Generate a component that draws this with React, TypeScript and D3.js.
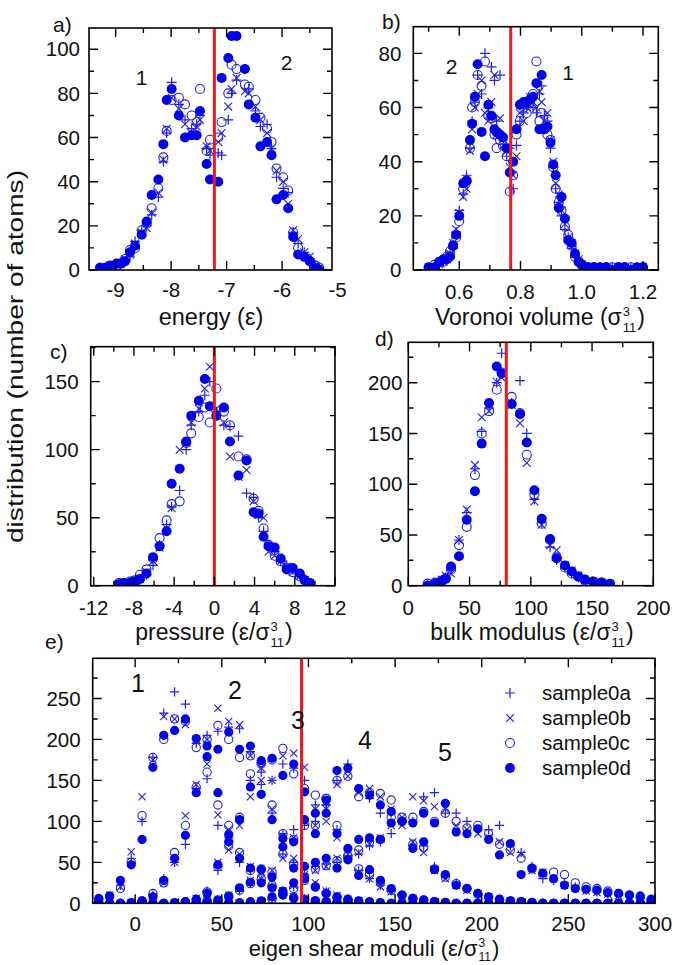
import React from "react";
import * as d3 from "d3";

type Pt = [number, number];
type Sym = "plus" | "cross" | "circle" | "disc";

const FONT = "'Liberation Sans', Arial, Helvetica, sans-serif";
const BLUE = "#0000f0";
const OPEN = "#2020e8";
const RED = "#f01818";

const sampleNames = ["sample0a", "sample0b", "sample0c", "sample0d"];
const sampleSyms: Sym[] = ["plus", "cross", "circle", "disc"];

// ---------- panel a: energy ----------
const aBins = [-9.28, -9.18, -9.1, -8.98, -8.9, -8.83, -8.74, -8.65, -8.53, -8.44,
  -8.35, -8.23, -8.14, -8.08, -7.99, -7.86, -7.75, -7.63, -7.54, -7.48,
  -7.36, -7.3, -7.15, -7.09, -6.97, -6.91, -6.82, -6.67, -6.6, -6.48,
  -6.39, -6.27, -6.19, -6.1, -5.98, -5.89, -5.8, -5.71, -5.6, -5.5,
  -5.4, -5.33];
const aS0a = [0, 1, 1, 2, 4, 4, 6, 13, 18, 20, 25, 33, 49, 62, 85, 75, 68, 64, 66, 70, 55, 52, 53, 52, 68, 80, 86, 91, 82, 72, 65, 66, 55, 42, 37, 35, 17, 12, 8, 5, 2, 1];
const aS0b = [0, 1, 2, 2, 3, 5, 7, 12, 17, 19, 26, 35, 50, 64, 78, 73, 66, 62, 65, 68, 56, 54, 58, 62, 74, 82, 87, 81, 80, 74, 68, 62, 55, 45, 40, 30, 18, 14, 8, 6, 2, 1];
const aS0c = [1, 1, 1, 2, 3, 5, 9, 10, 18, 21, 28, 37, 51, 63, 77, 78, 75, 70, 67, 82, 54, 59, 60, 67, 80, 93, 91, 84, 83, 77, 69, 64, 58, 46, 42, 36, 17, 10, 6, 4, 2, 1];
const aS0d = [1, 1, 2, 3, 3, 4, 8, 11, 16, 22, 34, 41, 57, 77, 82, 70, 60, 61, 61, 72, 48, 41, 40, 87, 96, 106, 106, 91, 75, 69, 56, 58, 52, 32, 34, 28, 15, 7, 6, 4, 1, 0];

// ---------- panel b: Voronoi volume ----------
const bBins = [0.5, 0.52, 0.535, 0.548, 0.56, 0.57, 0.58, 0.59, 0.6, 0.613,
  0.624, 0.635, 0.642, 0.651, 0.66, 0.673, 0.684, 0.695, 0.705, 0.715,
  0.722, 0.733, 0.743, 0.755, 0.765, 0.776, 0.787, 0.798, 0.81, 0.82,
  0.831, 0.841, 0.852, 0.862, 0.869, 0.878, 0.888, 0.898, 0.907, 0.915,
  0.925, 0.934, 0.945, 0.956, 0.967, 0.978, 0.99, 1.0, 1.02, 1.04,
  1.06, 1.08, 1.1, 1.12, 1.14, 1.16, 1.18, 1.2];
const bS0a = [0, 1, 2, 3, 5, 6, 8, 14, 22, 28, 35, 45, 55, 62, 72, 65, 80, 60, 75, 70, 55, 72, 48, 42, 45, 30, 46, 55, 58, 60, 62, 60, 58, 65, 68, 57, 55, 45, 38, 30, 25, 20, 15, 12, 8, 5, 3, 2, 1, 1, 1, 1, 1, 0, 1, 1, 1, 0];
const bS0b = [1, 1, 2, 3, 4, 6, 10, 15, 21, 27, 30, 44, 52, 60, 65, 70, 58, 55, 62, 72, 50, 56, 46, 44, 38, 35, 42, 58, 55, 60, 64, 62, 60, 66, 62, 55, 58, 48, 40, 32, 28, 22, 17, 12, 10, 6, 4, 2, 1, 1, 1, 1, 1, 1, 0, 1, 0, 1];
const bS0c = [0, 2, 3, 3, 5, 7, 9, 12, 18, 30, 33, 45, 60, 62, 72, 68, 77, 57, 56, 50, 45, 48, 46, 42, 29, 35, 50, 55, 60, 58, 62, 65, 77, 55, 58, 52, 50, 48, 38, 30, 25, 22, 16, 13, 9, 5, 3, 2, 1, 1, 0, 1, 1, 1, 1, 1, 0, 1];
const bS0d = [1, 1, 3, 4, 4, 5, 9, 13, 20, 32, 33, 48, 54, 64, 76, 51, 42, 61, 57, 52, 51, 50, 49, 45, 36, 40, 52, 61, 62, 62, 63, 64, 69, 52, 72, 52, 53, 47, 39, 35, 23, 27, 19, 11, 10, 6, 3, 2, 1, 1, 1, 1, 0, 1, 1, 0, 1, 1];

// ---------- panel c: pressure ----------
const cBins = [-9.5, -9.0, -8.4, -7.9, -7.4, -6.75, -6.1, -5.45, -4.75, -4.25,
  -3.45, -2.8, -2.3, -1.55, -0.95, -0.45, 0.2, 0.95, 1.55, 2.4,
  3.2, 3.9, 4.4, 4.9, 5.4, 6.0, 6.6, 7.2, 7.8, 8.5, 9.0, 9.5];
const cS0a = [1, 1, 2, 3, 4, 8, 15, 30, 45, 58, 70, 100, 118, 128, 140, 150, 128, 118, 117, 110, 68, 65, 50, 40, 28, 25, 18, 15, 12, 8, 5, 2];
const cS0b = [1, 2, 2, 4, 5, 10, 18, 28, 42, 57, 100, 105, 120, 130, 145, 161, 130, 120, 95, 80, 85, 62, 52, 50, 25, 22, 18, 14, 10, 7, 4, 2];
const cS0c = [2, 2, 3, 4, 8, 12, 20, 35, 48, 60, 62, 105, 112, 124, 131, 120, 145, 128, 118, 95, 93, 64, 55, 42, 30, 22, 18, 13, 10, 7, 4, 1];
const cS0d = [1, 2, 2, 3, 5, 9, 21, 29, 40, 75, 86, 106, 125, 136, 152, 132, 125, 131, 106, 81, 92, 54, 53, 36, 29, 28, 20, 12, 13, 9, 4, 2];

// ---------- panel d: bulk modulus ----------
const dBins = [15.8, 21.8, 27.2, 30.5, 34.9, 41.4, 47.7, 54.4, 59.9, 65.9,
  72.2, 76.2, 84.4, 91.2, 96.7, 102.9, 108.9, 115.7, 121.1, 127.9,
  133.4, 138.8, 144.2, 151, 157.9, 164.6];
const dS0a = [1, 3, 5, 8, 15, 45, 72, 115, 152, 175, 200, 229, 180, 202, 150, 85, 62, 38, 25, 18, 12, 8, 5, 4, 3, 1];
const dS0b = [0, 2, 6, 10, 12, 45, 75, 119, 166, 172, 201, 205, 178, 160, 121, 83, 60, 40, 35, 20, 15, 10, 6, 4, 3, 2];
const dS0c = [2, 3, 5, 7, 16, 40, 58, 109, 150, 172, 193, 210, 186, 170, 129, 90, 61, 45, 28, 18, 12, 9, 5, 4, 3, 1];
const dS0d = [0, 2, 4, 7, 19, 29, 65, 93, 140, 180, 216, 209, 179, 169, 141, 94, 66, 46, 27, 20, 14, 9, 6, 4, 3, 2];

// ---------- panel e: eigen shear moduli (5 modes) ----------
const eBins = [-21, -14.75, -8.5, -2.25, 4, 10.25, 16.5, 22.75, 29, 35.25,
  41.5, 47.75, 54, 60.25, 66.5, 72.75, 79, 85.25, 91.5, 97.75,
  104, 110.25, 116.5, 122.75, 129, 135.25, 141.5, 147.75, 154, 160.25,
  166.5, 172.75, 179, 185.25, 191.5, 197.75, 204, 210.25, 216.5, 222.75,
  229, 235.25, 241.5, 247.75, 254, 260.25, 266.5, 272.75, 279, 285.25,
  291.5, 297.75];
// first bin index of each mode's counts for samples 0a/0b/0c (0d covers all bins)
const eModeStart = [0, 3, 8, 9, 14];
const eG1a = [3, 8, 22, 55, 100, 178, 232, 258, 243, 195, 152, 95, 80, 50, 40, 28, 20, 12, 8, 5, 3, 2, 1, 1];
const eG1b = [4, 10, 20, 63, 130, 175, 228, 225, 218, 200, 170, 108, 90, 60, 45, 30, 20, 15, 8, 5, 3, 2, 1, 1];
const eG1c = [5, 8, 18, 50, 107, 178, 200, 225, 222, 190, 160, 120, 95, 62, 40, 30, 22, 14, 7, 5, 3, 2, 1, 0];
const eG1d = [6, 9, 28, 47, 78, 166, 205, 211, 225, 201, 179, 135, 84, 55, 43, 25, 19, 10, 6, 4, 3, 2, 1, 1, 0, 1, 0, 0, 0, 0, 0, 0, 0, 0, 0, 0, 0, 0, 0, 0, 0, 0, 0, 0, 0, 0, 0, 0, 0, 0, 0, 0];
const eG2a = [0, 2, 10, 30, 50, 72, 140, 205, 210, 215, 213, 185, 160, 110, 85, 50, 35, 22, 14, 8, 5, 3, 1];
const eG2b = [1, 2, 8, 25, 50, 107, 145, 200, 238, 222, 218, 180, 165, 115, 82, 55, 35, 25, 15, 10, 5, 3, 1];
const eG2c = [0, 3, 12, 25, 62, 95, 142, 200, 217, 200, 178, 180, 170, 120, 85, 48, 32, 20, 12, 7, 4, 2, 1];
const eG2d = [0, 0, 0, 1, 3, 8, 28, 55, 83, 135, 192, 188, 209, 188, 192, 174, 102, 79, 43, 30, 20, 12, 8, 5, 3, 2, 1, 0, 0, 0, 0, 0, 0, 0, 0, 0, 0, 0, 0, 0, 0, 0, 0, 0, 0, 0, 0, 0, 0, 0, 0, 0];
const eG3a = [2, 5, 15, 40, 75, 100, 150, 145, 150, 170, 165, 150, 120, 120, 90, 55, 40, 30, 22, 15, 10, 6, 4, 2, 1];
const eG3b = [1, 6, 12, 50, 65, 95, 130, 150, 150, 180, 183, 166, 115, 100, 80, 60, 38, 30, 20, 14, 9, 6, 3, 2, 1];
const eG3c = [2, 4, 14, 45, 70, 105, 158, 172, 175, 189, 158, 140, 132, 128, 95, 58, 42, 35, 25, 16, 10, 6, 4, 2, 1];
const eG3d = [0, 0, 0, 0, 0, 0, 0, 1, 2, 5, 12, 47, 75, 102, 142, 133, 177, 156, 170, 136, 110, 110, 85, 53, 34, 41, 28, 18, 10, 6, 4, 2, 1, 0, 0, 0, 0, 0, 0, 0, 0, 0, 0, 0, 0, 0, 0, 0, 0, 0, 0, 0];
const eG4a = [1, 2, 4, 8, 15, 25, 40, 35, 60, 90, 95, 100, 120, 150, 170, 140, 128, 110, 110, 100, 70, 70, 45, 35, 25, 18, 12, 8, 5, 3, 2, 1];
const eG4b = [1, 2, 5, 10, 18, 28, 38, 40, 55, 80, 100, 95, 115, 145, 155, 135, 140, 130, 115, 95, 75, 62, 40, 30, 22, 16, 12, 8, 5, 3, 2, 1];
const eG4c = [1, 3, 4, 9, 16, 24, 42, 38, 60, 78, 95, 95, 128, 150, 155, 130, 135, 134, 105, 105, 72, 68, 42, 32, 24, 18, 11, 7, 4, 3, 2, 1];
const eG4d = [0, 0, 0, 0, 0, 0, 0, 0, 0, 1, 2, 3, 8, 19, 26, 41, 32, 69, 75, 102, 85, 126, 162, 165, 140, 132, 120, 112, 100, 67, 75, 41, 35, 22, 18, 12, 8, 5, 3, 2, 1, 0, 0, 0, 0, 0, 0, 0, 0, 0, 0, 0];
const eG5a = [1, 2, 5, 10, 20, 30, 45, 48, 50, 55, 60, 70, 75, 85, 100, 100, 130, 135, 110, 110, 100, 90, 90, 95, 70, 62, 45, 30, 28, 25, 20, 16, 14, 12, 10, 8, 6, 4];
const eG5b = [1, 3, 6, 12, 22, 32, 40, 45, 55, 55, 62, 72, 80, 95, 105, 130, 125, 118, 115, 95, 90, 85, 80, 75, 62, 60, 40, 38, 30, 22, 18, 15, 13, 11, 9, 7, 5, 3];
const eG5c = [1, 2, 5, 11, 18, 28, 42, 46, 52, 58, 65, 75, 78, 126, 100, 105, 112, 100, 110, 100, 92, 95, 85, 72, 65, 55, 42, 35, 38, 35, 25, 20, 18, 15, 12, 10, 7, 4];
const eG5d = [0, 0, 0, 0, 0, 0, 0, 0, 0, 0, 0, 0, 1, 1, 2, 3, 8, 15, 25, 45, 50, 55, 43, 67, 78, 80, 78, 98, 100, 98, 110, 98, 122, 87, 85, 91, 78, 59, 73, 35, 43, 37, 30, 22, 18, 17, 16, 13, 12, 10, 9, 5];

// vertical reference lines (data units)
const refLines = { a: -7.22, b: 0.768, c: 0, d: 80, e: 96 };

// ---------- helpers ----------
const zip = (bins: number[], counts: number[], start = 0): Pt[] =>
  counts.map((c, i) => [bins[start + i], c] as Pt);

const eModesA = [eG1a, eG2a, eG3a, eG4a, eG5a];
const eModesB = [eG1b, eG2b, eG3b, eG4b, eG5b];
const eModesC = [eG1c, eG2c, eG3c, eG4c, eG5c];
const eModesD = [eG1d, eG2d, eG3d, eG4d, eG5d];
const eSample = (modes: number[][], starts: number[] | null): Pt[] =>
  modes.flatMap((m, k) => zip(eBins, m, starts ? starts[k] : 0));

function Marker({ sym, x, y, r }: { sym: Sym; x: number; y: number; r: number }) {
  if (sym === "disc") return <circle cx={x} cy={y} r={r} fill={BLUE} />;
  if (sym === "circle")
    return <circle cx={x} cy={y} r={r * 0.9} fill="none" stroke={OPEN} strokeWidth={1.1} />;
  if (sym === "plus")
    return <path d={`M${x - r},${y}H${x + r}M${x},${y - r}V${y + r}`} stroke={OPEN} strokeWidth={1.2} fill="none" />;
  const s = r * 0.78;
  return <path d={`M${x - s},${y - s}L${x + s},${y + s}M${x - s},${y + s}L${x + s},${y - s}`} stroke={OPEN} strokeWidth={1.1} fill="none" />;
}

interface PanelProps {
  id: string;
  frame: { l: number; r: number; t: number; b: number };
  xd: [number, number];
  yd: [number, number];
  xMaj: number[];
  xMin: number[];
  yMaj: number[];
  yMin: number[];
  xFmt: (v: number) => string;
  series: Pt[][];
  refX: number;
  r: number;
  xLabGap: number;
  yLabGap: number;
}

const TICK_FS = 20.5;

function Panel(p: PanelProps) {
  const { frame: f } = p;
  const x = d3.scaleLinear().domain(p.xd).range([f.l, f.r]);
  const y = d3.scaleLinear().domain(p.yd).range([f.b, f.t]);
  const inX = (v: number) => v >= p.xd[0] - 1e-9 && v <= p.xd[1] + 1e-9;
  const inY = (v: number) => v >= p.yd[0] - 1e-9 && v <= p.yd[1] + 1e-9;
  const MAJ = 9, MIN = 5;
  const tickPath: string[] = [];
  p.xMaj.filter(inX).forEach((v) => {
    const X = x(v);
    tickPath.push(`M${X},${f.b}v${-MAJ}M${X},${f.t}v${MAJ}`);
  });
  p.xMin.filter(inX).forEach((v) => {
    const X = x(v);
    tickPath.push(`M${X},${f.b}v${-MIN}M${X},${f.t}v${MIN}`);
  });
  p.yMaj.filter(inY).forEach((v) => {
    const Y = y(v);
    tickPath.push(`M${f.l},${Y}h${MAJ}M${f.r},${Y}h${-MAJ}`);
  });
  p.yMin.filter(inY).forEach((v) => {
    const Y = y(v);
    tickPath.push(`M${f.l},${Y}h${MIN}M${f.r},${Y}h${-MIN}`);
  });
  return (
    <g>
      <defs>
        <clipPath id={`clip-${p.id}`}>
          <rect x={f.l} y={f.t} width={f.r - f.l} height={f.b - f.t} />
        </clipPath>
      </defs>
      <g clipPath={`url(#clip-${p.id})`}>
        {p.series.map((pts, si) => (
          <g key={si}>
            {pts.map((d, i) => (
              <Marker key={i} sym={sampleSyms[si]} x={x(d[0])} y={y(d[1])} r={p.r} />
            ))}
          </g>
        ))}
        <line x1={x(p.refX)} x2={x(p.refX)} y1={f.t} y2={f.b} stroke={RED} strokeWidth={3} />
      </g>
      <path d={tickPath.join("")} stroke="#000" strokeWidth={1.4} fill="none" />
      <rect x={f.l} y={f.t} width={f.r - f.l} height={f.b - f.t} fill="none" stroke="#000" strokeWidth={1.6} />
      {p.xMaj.map((v) => (
        <text key={"x" + v} x={x(v)} y={f.b + p.xLabGap} textAnchor="middle" fontSize={TICK_FS} fill="#111">
          {p.xFmt(v)}
        </text>
      ))}
      {p.yMaj.filter(inY).map((v) => (
        <text key={"y" + v} x={f.l - p.yLabGap} y={y(v) + 7.2} textAnchor="end" fontSize={TICK_FS} fill="#111">
          {String(v)}
        </text>
      ))}
    </g>
  );
}

function ScriptTitle({ cx, y, pre, fs, sfs, supDy, subDy }: { cx: number; y: number; pre: string; fs: number; sfs: number; supDy: number; subDy: number }) {
  return (
    <text x={cx} y={y} textAnchor="middle" fontSize={fs} fill="#111">
      <tspan>{pre}</tspan>
      <tspan dx={1} dy={supDy} fontSize={sfs}>3</tspan>
      <tspan dx={-sfs * 0.556} dy={subDy} fontSize={sfs}>11</tspan>
      <tspan dx={1} dy={-(supDy + subDy)}>)</tspan>
    </text>
  );
}

export default function App() {
  const seriesA = [aS0a, aS0b, aS0c, aS0d].map((s) => zip(aBins, s));
  const seriesB = [bS0a, bS0b, bS0c, bS0d].map((s) => zip(bBins, s));
  const seriesC = [cS0a, cS0b, cS0c, cS0d].map((s) => zip(cBins, s));
  const seriesD = [dS0a, dS0b, dS0c, dS0d].map((s) => zip(dBins, s));
  const seriesE = [
    eSample(eModesA, eModeStart),
    eSample(eModesB, eModeStart),
    eSample(eModesC, eModeStart),
    eSample(eModesD, null),
  ];
  const legendRows = [693, 718, 743, 768];
  return (
    <svg
      width={673}
      height={965}
      style={{ position: "absolute", left: 0, top: 0, background: "#fff" }}
      fontFamily={FONT}
    >
      <rect width={673} height={965} fill="#fff" />
      <Panel
        id="a"
        frame={{ l: 89, r: 332, t: 28, b: 270 }}
        xd={[-9.48, -5.1]}
        yd={[0, 109.6]}
        xMaj={[-9, -8, -7, -6, -5]}
        xMin={[-9.5, -8.5, -7.5, -6.5, -5.5]}
        yMaj={[0, 20, 40, 60, 80, 100]}
        yMin={[10, 30, 50, 70, 90]}
        xFmt={(v) => String(v)}
        series={seriesA}
        refX={refLines.a}
        r={5}
        xLabGap={27}
        yLabGap={9}
      />
      <Panel
        id="b"
        frame={{ l: 413.3, r: 658.3, t: 26.7, b: 270 }}
        xd={[0.45, 1.25]}
        yd={[0, 89.85]}
        xMaj={[0.6, 0.8, 1.0, 1.2]}
        xMin={[0.5, 0.7, 0.9, 1.1]}
        yMaj={[0, 20, 40, 60, 80]}
        yMin={[10, 30, 50, 70]}
        xFmt={(v) => v.toFixed(1)}
        series={seriesB}
        refX={refLines.b}
        r={5}
        xLabGap={29}
        yLabGap={12}
      />
      <Panel
        id="c"
        frame={{ l: 90.7, r: 335, t: 346.7, b: 585.7 }}
        xd={[-12.3, 12]}
        yd={[0, 175.7]}
        xMaj={[-12, -8, -4, 0, 4, 8, 12]}
        xMin={[-10, -6, -2, 2, 6, 10]}
        yMaj={[0, 50, 100, 150]}
        yMin={[25, 75, 125, 175]}
        xFmt={(v) => String(v)}
        series={seriesC}
        refX={refLines.c}
        r={5}
        xLabGap={29}
        yLabGap={12}
      />
      <Panel
        id="d"
        frame={{ l: 408.3, r: 653.3, t: 342.3, b: 585.7 }}
        xd={[0, 200]}
        yd={[0, 239.8]}
        xMaj={[0, 50, 100, 150, 200]}
        xMin={[25, 75, 125, 175]}
        yMaj={[0, 50, 100, 150, 200]}
        yMin={[25, 75, 125, 175, 225]}
        xFmt={(v) => String(v)}
        series={seriesD}
        refX={refLines.d}
        r={5}
        xLabGap={29}
        yLabGap={6}
      />
      <Panel
        id="e"
        frame={{ l: 92.7, r: 655, t: 658.3, b: 903.3 }}
        xd={[-24.5, 300]}
        yd={[0, 299]}
        xMaj={[0, 50, 100, 150, 200, 250, 300]}
        xMin={[25, 75, 125, 175, 225, 275]}
        yMaj={[0, 50, 100, 150, 200, 250]}
        yMin={[25, 75, 125, 175, 225, 275]}
        xFmt={(v) => String(v)}
        series={seriesE}
        refX={refLines.e}
        r={4.6}
        xLabGap={28}
        yLabGap={12}
      />

      {/* panel letters */}
      <g fontSize={21} fill="#111">
        <text x={53} y={32}>a)</text>
        <text x={382} y={29}>b)</text>
        <text x={50} y={359}>c)</text>
        <text x={375} y={346}>d)</text>
        <text x={45} y={649}>e)</text>
      </g>

      {/* group numbers */}
      <g fontSize={21} fill="#111" textAnchor="middle">
        <text x={141.7} y={85}>1</text>
        <text x={286.7} y={70}>2</text>
        <text x={451.7} y={74}>2</text>
        <text x={568} y={80}>1</text>
      </g>
      <g fontSize={25} fill="#111" textAnchor="middle">
        <text x={138} y={692}>1</text>
        <text x={235} y={699}>2</text>
        <text x={298} y={729}>3</text>
        <text x={365} y={749}>4</text>
        <text x={445} y={761}>5</text>
      </g>

      {/* legend */}
      {sampleNames.map((n, i) => (
        <g key={n}>
          <Marker sym={sampleSyms[i]} x={510} y={legendRows[i]} r={5} />
          <text x={542} y={legendRows[i] + 7} fontSize={20.5} fill="#111">
            {n}
          </text>
        </g>
      ))}

      {/* axis titles */}
      <text x={211} y={325} textAnchor="middle" fontSize={23.5} fill="#111">energy (ε)</text>
      <ScriptTitle cx={540} y={325} pre="Voronoi volume (σ" fs={23} sfs={13} supDy={-9} subDy={16} />
      <ScriptTitle cx={214} y={640} pre="pressure (ε/σ" fs={23} sfs={13} supDy={-9} subDy={16} />
      <ScriptTitle cx={532} y={640} pre="bulk modulus (ε/σ" fs={23} sfs={13} supDy={-9} subDy={16} />
      <ScriptTitle cx={374} y={956} pre="eigen shear moduli (ε/σ" fs={22} sfs={12} supDy={-9} subDy={13.5} />
      <text
        transform="translate(23,356.5) rotate(-90)"
        textAnchor="middle"
        fontSize={22}
        fill="#111"
        textLength={373}
        lengthAdjust="spacingAndGlyphs"
      >
        distribution (number of atoms)
      </text>
    </svg>
  );
}
